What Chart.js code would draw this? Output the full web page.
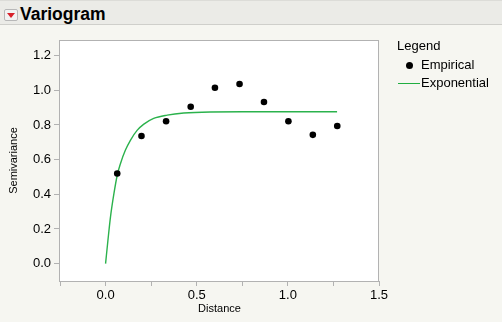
<!DOCTYPE html>
<html>
<head>
<meta charset="utf-8">
<script src="https://cdn.jsdelivr.net/npm/chart.js@4.4.1/dist/chart.umd.min.js"></script>
<style>
  html, body { margin: 0; padding: 0; background: #f6f6f1; }
  #wrap { position: relative; width: 502px; height: 322px; overflow: hidden; background: #f6f6f1; }
  #chart { position: absolute; left: 0; top: 0; }
  #header { position: absolute; left: 0; top: 0; width: 502px; height: 23px; background: #ebebe7;
            border-top: 1px solid #dcdcd8; border-bottom: 1px solid #cfcfcb; }
  #icon { position: absolute; left: 4px; top: 8px; width: 12px; height: 10px; background: #f2f2f2;
          border: 1px solid #b8b8b8; border-radius: 2px; }
  #icon::after { content: ""; position: absolute; left: 2px; top: 3px; width: 0; height: 0;
          border-left: 4px solid transparent; border-right: 4px solid transparent; border-top: 5px solid #d8202a; }
  #title { position: absolute; left: 20px; top: 2px; font: bold 17.5px "Liberation Sans", Arial, sans-serif; color: #000; line-height: 22px; }
  .lg { position: absolute; font: 13px "Liberation Sans", Arial, sans-serif; color: #000; line-height: 16px; }
  #lgdot { position: absolute; left: 406px; top: 62px; width: 7px; height: 7px; border-radius: 50%; background: #000; }
  #lgline { position: absolute; left: 398px; top: 83px; width: 22px; height: 1px; background: #1fae40; }
</style>
</head>
<body>
<div id="wrap">
  <canvas id="chart" width="502" height="322"></canvas>
  <div id="header"><div id="icon"></div><div id="title">Variogram</div></div>
  <div class="lg" style="left:397px; top:38px;">Legend</div>
  <div id="lgdot"></div>
  <div class="lg" style="left:421px; top:57px;">Empirical</div>
  <div id="lgline"></div>
  <div class="lg" style="left:421px; top:75px;">Exponential</div>
</div>
<script>
// Empirical variogram points
const distance = [0.064, 0.197, 0.332, 0.467, 0.600, 0.735, 0.869, 1.003, 1.137, 1.271];
const semivariance = [0.520, 0.736, 0.821, 0.905, 1.015, 1.036, 0.932, 0.821, 0.743, 0.794];

// Fitted exponential model
const modelDistance = [0, 0.013, 0.027, 0.046, 0.064, 0.082, 0.109, 0.137, 0.174, 0.21, 0.264, 0.338, 0.429, 0.575, 0.75, 1.0, 1.27];
const modelSemivariance = [0, 0.135, 0.27, 0.405, 0.51, 0.578, 0.655, 0.713, 0.77, 0.805, 0.838, 0.857, 0.869, 0.875, 0.876, 0.876, 0.876];

// Tick values and labels
const xTickValues = [-0.25, 0, 0.25, 0.5, 0.75, 1.0, 1.25, 1.5];
const xTickLabels = ['', '0.0', '', '0.5', '', '1.0', '', '1.5'];
const yTickValues = [0, 0.2, 0.4, 0.6, 0.8, 1.0, 1.2];
const yTickLabels = ['0.0', '0.2', '0.4', '0.6', '0.8', '1.0', '1.2'];

const empiricalData = distance.map((d, i) => ({ x: d, y: semivariance[i] }));
const modelData = modelDistance.map((d, i) => ({ x: d, y: modelSemivariance[i] }));

const frameColor = '#b2b2b2';
const fontFamily = '"Liberation Sans", Arial, sans-serif';

const plotFrame = {
  id: 'plotFrame',
  beforeDatasetsDraw(chart) {
    const { ctx, chartArea: a } = chart;
    ctx.save();
    ctx.fillStyle = '#ffffff';
    ctx.fillRect(a.left, a.top, a.right - a.left, a.bottom - a.top);
    ctx.restore();
  },
  afterDraw(chart) {
    const { ctx, chartArea: a } = chart;
    ctx.save();
    ctx.strokeStyle = frameColor;
    ctx.lineWidth = 1;
    ctx.strokeRect(Math.round(a.left) - 0.5, Math.round(a.top) + 0.5, Math.round(a.right - a.left), Math.round(a.bottom - a.top));
    ctx.restore();
  }
};

new Chart(document.getElementById('chart'), {
  type: 'scatter',
  data: {
    datasets: [
      {
        label: 'Exponential',
        type: 'line',
        data: modelData,
        borderColor: '#2bb24c',
        borderWidth: 1.4,
        pointRadius: 0,
        fill: false,
        cubicInterpolationMode: 'monotone',
        order: 2
      },
      {
        label: 'Empirical',
        data: empiricalData,
        backgroundColor: '#000000',
        borderColor: '#000000',
        pointRadius: 3.3,
        pointBorderWidth: 0,
        order: 1
      }
    ]
  },
  options: {
    responsive: false,
    animation: false,
    devicePixelRatio: 1,
    layout: { padding: { left: 0, top: 40, right: 123, bottom: 0 } },
    plugins: { legend: { display: false }, tooltip: { enabled: false } },
    scales: {
      x: {
        type: 'linear',
        min: -0.25,
        max: 1.5,
        afterBuildTicks(scale) { scale.ticks = xTickValues.map(v => ({ value: v })); },
        afterFit(scale) { scale.height = 41; },
        ticks: {
          autoSkip: false,
          maxRotation: 0,
          padding: 2,
          color: '#000',
          font: { family: fontFamily, size: 13 },
          callback: (v, i) => xTickLabels[i]
        },
        grid: {
          drawOnChartArea: false,
          drawTicks: true,
          tickLength: 5,
          tickColor: frameColor
        },
        border: { color: frameColor },
        title: {
          display: true,
          text: 'Distance',
          color: '#000',
          font: { family: fontFamily, size: 11 },
          padding: { top: 0, bottom: 6 }
        }
      },
      y: {
        type: 'linear',
        min: -0.1,
        max: 1.29,
        afterBuildTicks(scale) { scale.ticks = yTickValues.map(v => ({ value: v })); },
        afterFit(scale) { scale.width = 60; },
        ticks: {
          autoSkip: false,
          padding: 3,
          color: '#000',
          font: { family: fontFamily, size: 13 },
          callback: (v, i) => yTickLabels[i]
        },
        grid: {
          drawOnChartArea: false,
          drawTicks: true,
          tickLength: 6,
          tickColor: frameColor
        },
        border: { color: frameColor },
        title: {
          display: true,
          text: 'Semivariance',
          color: '#000',
          font: { family: fontFamily, size: 11 },
          padding: { top: 7, bottom: 0 }
        }
      }
    }
  },
  plugins: [plotFrame]
});
</script>
</body>
</html>
